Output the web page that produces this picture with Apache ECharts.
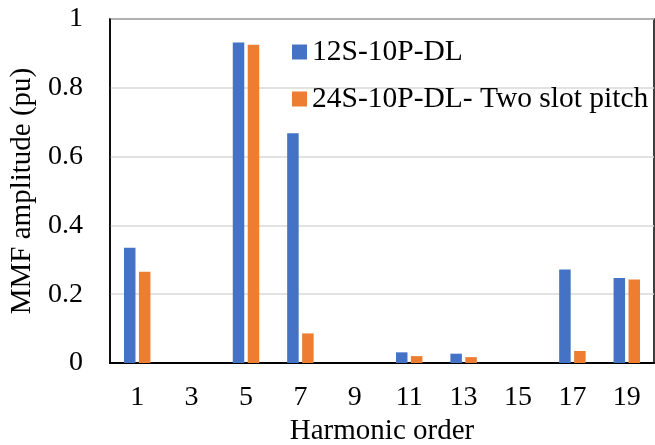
<!DOCTYPE html>
<html>
<head>
<meta charset="utf-8">
<script src="https://cdn.jsdelivr.net/npm/echarts@6/dist/echarts.min.js"></script>
<style>html,body{margin:0;padding:0;background:#fff;}#c{width:655px;height:445px;}</style>
</head>
<body>
<div id="c"></div>
<script>
var categories = ['1','3','5','7','9','11','13','15','17','19'];
var series12S = [0.335, 0, 0.932, 0.668, 0, 0.031, 0.027, 0, 0.272, 0.247];
var series24S = [0.265, 0, 0.925, 0.086, 0, 0.020, 0.017, 0, 0.035, 0.243];
var seriesNames = ['12S-10P-DL', '24S-10P-DL- Two slot pitch'];
var yTicks = [0, 0.2, 0.4, 0.6, 0.8, 1];

var font = 'Liberation Serif';
var chart = echarts.init(document.getElementById('c'));
chart.setOption({
  animation: false,
  backgroundColor: '#fff',
  grid: {left: 110, top: 19, right: 1, bottom: 82, show: true, borderColor: '#000', borderWidth: 1.5,
         containLabel: false, outerBoundsMode: 'none'},
  legend: {
    orient: 'vertical', left: 287, top: 32,
    itemWidth: 15, itemHeight: 15, itemGap: 17, padding: 5,
    icon: 'rect',
    textStyle: {fontFamily: font, fontSize: 29.5, color: '#000', lineHeight: 29},
    data: seriesNames
  },
  xAxis: {
    type: 'category', data: categories,
    axisLine: {lineStyle: {color: '#000', width: 2}},
    axisTick: {show: false},
    axisLabel: {fontFamily: font, fontSize: 28, color: '#000', margin: 21},
    name: 'Harmonic order', nameLocation: 'middle', nameGap: 51,
    nameTextStyle: {fontFamily: font, fontSize: 29, color: '#000'}
  },
  yAxis: {
    type: 'value', min: yTicks[0], max: yTicks[yTicks.length-1], interval: 0.2,
    axisLine: {show: true, lineStyle: {color: '#000', width: 1.5}},
    axisTick: {show: false},
    axisLabel: {fontFamily: font, fontSize: 28, color: '#000', margin: 27},
    splitLine: {lineStyle: {color: '#d9d9d9', width: 1.5}},
    name: 'MMF amplitude (pu)', nameLocation: 'middle', nameGap: 70,
    nameTextStyle: {fontFamily: font, fontSize: 29, color: '#000'}
  },
  series: [
    {name: seriesNames[0], type: 'bar', data: series12S, barWidth: 11.5, barGap: '30%',
     itemStyle: {color: '#4472C4'}},
    {name: seriesNames[1], type: 'bar', data: series24S, barWidth: 11.5, barGap: '30%',
     itemStyle: {color: '#ED7D31'}}
  ]
});
</script>
</body>
</html>
